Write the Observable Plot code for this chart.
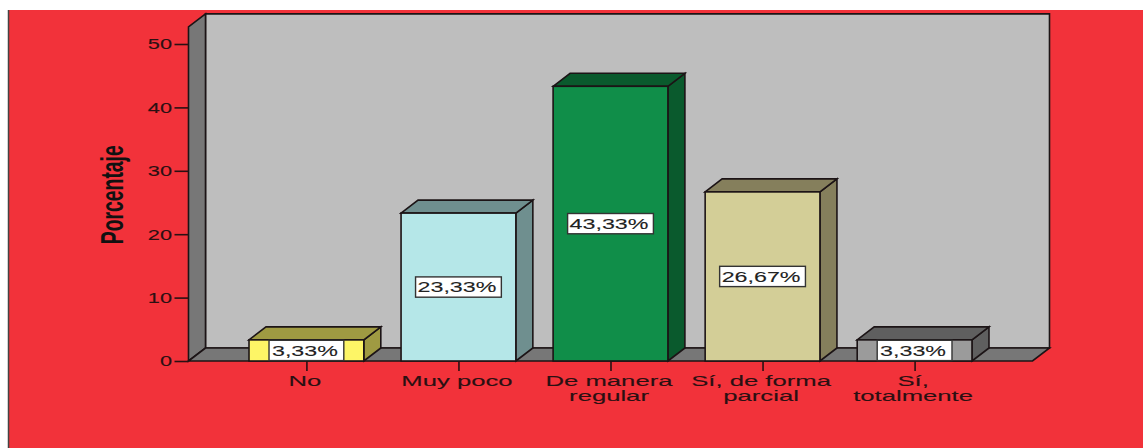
<!DOCTYPE html>
<html>
<head>
<meta charset="utf-8">
<script src="https://cdn.jsdelivr.net/npm/d3@7"></script>
<script src="https://cdn.jsdelivr.net/npm/@observablehq/plot@0.6"></script>
<style>
  html, body { margin: 0; padding: 0; background: #fff; overflow: hidden; }
  svg { display: block; }
  .x-axis text, .y-axis text { stroke: #2a1012; stroke-width: 0.12; }
  .bar-label text { stroke: #222; stroke-width: 0.1; }
</style>
</head>
<body>
<script>
const categories = ["No", "Muy poco", "De manera\nregular", "Sí, de forma\nparcial", "Sí,\ntotalmente"];
const values = [3.33, 23.33, 43.33, 26.67, 3.33];
const labels = ["3,33%", "23,33%", "43,33%", "26,67%", "3,33%"];
const frontColors = ["#fdf566", "#b5e7e8", "#108e49", "#d3ce97", "#9b9b9b"];
const shadeColors = ["#9f9a42", "#6f8f8f", "#0a5a2d", "#857f5c", "#5f5f5f"];
const yTicks = [0, 10, 20, 30, 40, 50];
const yLabel = "Porcentaje";

const rows = categories.map((category, i) => ({
  category, value: values[i], label: labels[i], shade: shadeColors[i]
}));

const RED = "#f2323a", INK = "#1c1416";
const depthX = 17, depthY = 13;
const wallTopValue = 52.7;

function poly(g, points, fill, stroke = INK, width = 1.6) {
  d3.select(g).append("polygon")
    .attr("points", points.map(p => p.join(",")).join(" "))
    .attr("fill", fill).attr("stroke", stroke)
    .attr("stroke-width", width).attr("stroke-linejoin", "miter");
}

function backdrop(index, scales, channels, dims) {
  const g = document.createElementNS("http://www.w3.org/2000/svg", "g");
  d3.select(g).append("rect")
    .attr("x", 8).attr("y", 10)
    .attr("width", dims.width - 8).attr("height", dims.height - 10)
    .attr("fill", RED);
  d3.select(g).append("line")
    .attr("x1", 8.5).attr("x2", 8.5).attr("y1", 10).attr("y2", dims.height)
    .attr("stroke", "#444").attr("stroke-width", 1.5);
  const l = dims.marginLeft, r = dims.width - dims.marginRight;
  const y0 = scales.y(0), yt = scales.y(wallTopValue);
  poly(g, [[l + depthX, y0 - depthY], [r + depthX, y0 - depthY], [r + depthX, yt - depthY], [l + depthX, yt - depthY]], "#bebebe");
  poly(g, [[l, y0], [l + depthX, y0 - depthY], [l + depthX, yt - depthY], [l, yt]], "#777777");
  poly(g, [[l, y0], [r, y0], [r + depthX, y0 - depthY], [l + depthX, y0 - depthY]], "#777777");
  return g;
}

function barDepth(index, scales, channels, dims) {
  const g = document.createElementNS("http://www.w3.org/2000/svg", "g");
  const bw = typeof scales.x.bandwidth === "function" ? scales.x.bandwidth() : scales.x.bandwidth;
  for (const d of rows) {
    const x0 = scales.x(d.category), x1 = x0 + bw;
    const y0 = scales.y(0), y1 = scales.y(d.value);
    poly(g, [[x1, y0], [x1 + depthX, y0 - depthY], [x1 + depthX, y1 - depthY], [x1, y1]], d.shade);
    poly(g, [[x0, y1], [x0 + depthX, y1 - depthY], [x1 + depthX, y1 - depthY], [x1, y1]], d.shade);
  }
  return g;
}

const halfBox = 1.6;
const boxOptions = inset => ({
  x: "category",
  y1: d => d.value / 2 - halfBox,
  y2: d => d.value / 2 + halfBox,
  insetLeft: inset, insetRight: inset,
  fill: "white", stroke: "#333", strokeWidth: 1.4
});

const chart = Plot.plot({
  width: 1143,
  height: 448,
  marginLeft: 188.5,
  marginRight: 110.5,
  marginTop: 44,
  marginBottom: 87,
  style: { background: "white", fontFamily: "'Liberation Sans', Arial, sans-serif" },
  x: { type: "band", domain: categories, paddingInner: 0.245, paddingOuter: 0.398, round: false },
  y: { domain: [0, 50], nice: false },
  color: { domain: categories, range: frontColors },
  marks: [
    backdrop,
    barDepth,
    Plot.barY(rows, { x: "category", y: "value", fill: "category", stroke: INK, strokeWidth: 1.6 }),
    Plot.barY(rows.filter(d => d.value >= 10), boxOptions(14.5)),
    Plot.barY(rows.filter(d => d.value < 10), boxOptions(20)),
    Plot.text(rows, {
      x: "category", y: d => d.value / 2, text: "label", dx: -2,
      fontSize: 15, fill: "#222", className: "bar-label"
    }),
    Plot.axisX({
      label: null, tickSize: 10, tickPadding: 4, fontSize: 15, lineHeight: 1,
      stroke: "#2a1012", fill: "#2a1012", strokeWidth: 1.6, className: "x-axis"
    }),
    Plot.axisY({
      ticks: yTicks, label: null, tickSize: 14, tickPadding: 3, fontSize: 15,
      stroke: "#2a1012", fill: "#2a1012", strokeWidth: 1.6, className: "y-axis"
    }),
    Plot.text([yLabel], {
      frameAnchor: "left", y: [26.3], dx: -66, rotate: -90,
      text: d => d, fontSize: 32, fontWeight: "bold", fill: "#111",
      textAnchor: "middle", lineAnchor: "bottom", className: "y-title"
    })
  ]
});
document.body.appendChild(chart);

function stretch(selector, factor, fixed, shift) {
  chart.querySelectorAll(selector).forEach(t => {
    const spans = t.querySelectorAll("tspan");
    (spans.length ? [...spans] : [t]).forEach(el => {
      const len = el.getComputedTextLength();
      el.setAttribute("textLength", fixed ?? len * factor);
      el.setAttribute("lengthAdjust", "spacingAndGlyphs");
      if (shift) el.setAttribute("dx", shift);
    });
  });
}
stretch(".bar-label text", 1.55);
stretch(".x-axis text", 1.71, null, -2);
stretch(".y-axis text", 1.45);
stretch(".y-title text", 1, 99);
</script>
</body>
</html>
